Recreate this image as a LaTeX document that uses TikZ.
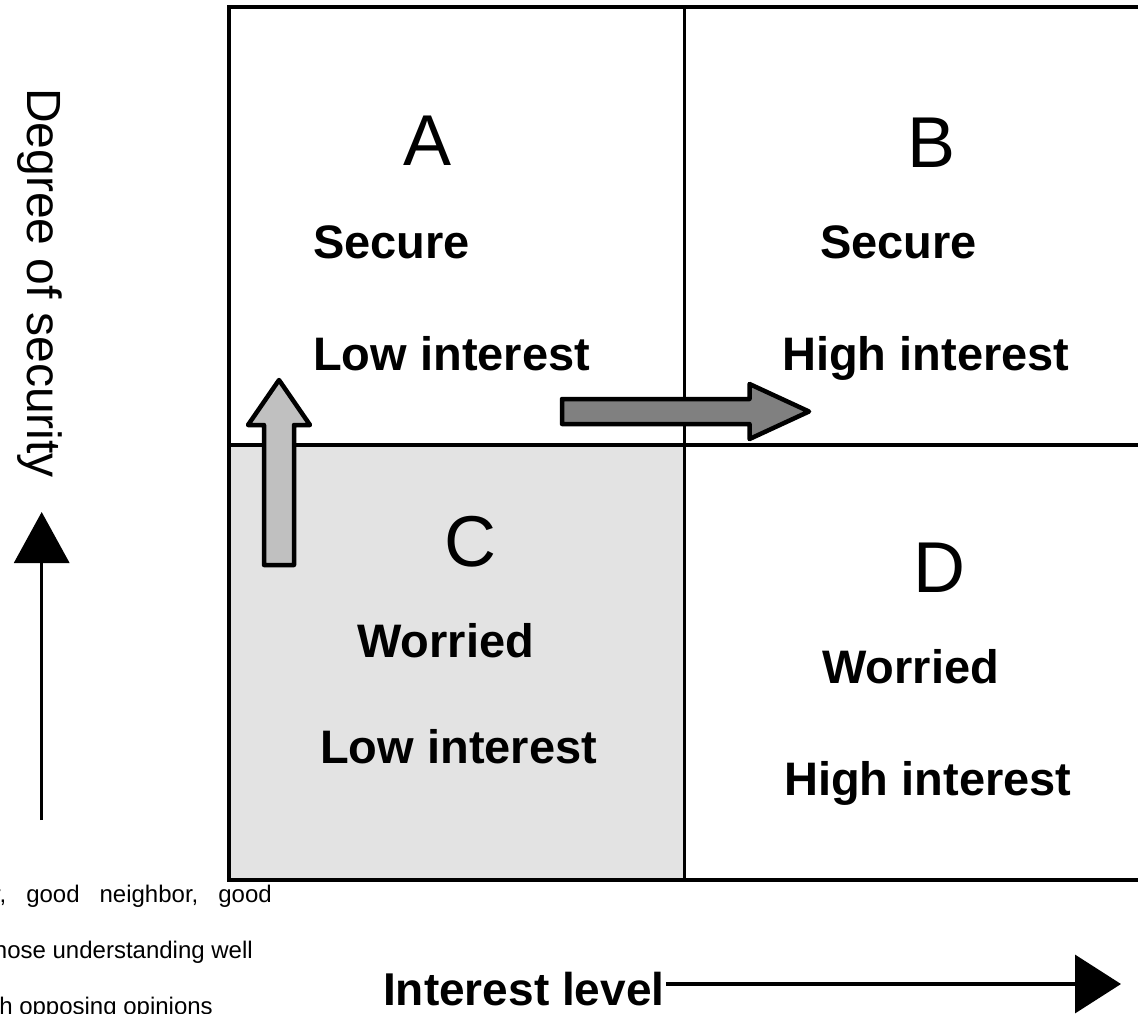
\documentclass[tikz,border=0pt]{standalone}
\usepackage{fontspec}
\setmainfont{Liberation Sans}
\usetikzlibrary{arrows.meta}
\definecolor{cfill}{HTML}{E3E3E3}
\definecolor{upfill}{HTML}{C0C0C0}
\definecolor{rightfill}{HTML}{808080}
\begin{document}
\begin{tikzpicture}[x=1pt,y=-1pt,
  gridline/.style={line width=3.5pt, line join=miter},
  quad/.style={font=\fontsize{72}{80}\selectfont, anchor=base, inner sep=0pt},
  lbl/.style={font=\fontsize{47}{52}\selectfont\bfseries, anchor=base west, inner sep=0pt},
  notetext/.style={font=\fontsize{24}{28}\selectfont, anchor=base east, inner sep=0pt},
  blockarrow/.style={draw=black, line width=4.5pt, line join=round},
  axisline/.style={line width=3.5pt}
]
\useasboundingbox (0,0) rectangle (1138,1013);
% shaded quadrant C
\fill[cfill] (229,445) rectangle (684.5,880);
% grid
\draw[gridline] (229,880) -- (229,7) -- (1160,7);
\draw[gridline] (229,445) -- (1160,445);
\draw[gridline] (227.25,880) -- (1160,880);
\draw[gridline] (684.5,7) -- (684.5,880);
% quadrant letters
\node[quad] (qa) at (428,165) {A};
\node[quad] (qb) at (932,167) {B};
\node[quad] (qc) at (470,566) {C};
\node[quad] (qd) at (939,592) {D};
% quadrant labels
\node[lbl] (a1) at (313,258) {Secure};
\node[lbl] (a2) at (313,370) {Low interest};
\node[lbl] (b1) at (820,258) {Secure};
\node[lbl] (b2) at (782,370) {High interest};
\node[lbl] (c1) at (357,657) {Worried};
\node[lbl] (c2) at (320,763) {Low interest};
\node[lbl] (d1) at (822,683) {Worried};
\node[lbl] (d2) at (784,795) {High interest};
% block arrows
\draw[blockarrow, fill=upfill] (264,565) -- (264,425) -- (248,425) -- (279,380) -- (310,425) -- (294,425) -- (294,565) -- cycle;
\draw[blockarrow, fill=rightfill] (562,399) -- (749.5,399) -- (749.5,384) -- (809,411.5) -- (749.5,439) -- (749.5,424) -- (562,424) -- cycle;
% axes
\node[font=\fontsize{48}{52}\selectfont, rotate=-90, inner sep=0pt] (ylab) at (40,283) {Degree of security};
\coordinate (ystart) at (41.7,820);
\coordinate (yend) at (41.7,512);
\draw[axisline, -{Triangle[length=51pt,width=55pt]}] (ystart) -- (yend);
\node[font=\fontsize{46}{50}\selectfont\bfseries, anchor=base west, inner sep=0pt] (xlab) at (383,1005) {Interest level};
\coordinate (xstart) at (666,984);
\coordinate (xend) at (1121,984);
\draw[axisline, -{Triangle[length=46pt,width=58pt]}] (xstart) -- (xend);
% cut-off note text (cut off at the edge in the reference too)
\node[notetext] (n1) at (272,902) {r,\hspace{20pt}good\hspace{20pt}neighbor,\hspace{20pt}good};
\node[notetext] (n2) at (253,958) {hose understanding well};
\node[notetext] (n3) at (213,1014) {h opposing opinions};
\end{tikzpicture}
\end{document}
